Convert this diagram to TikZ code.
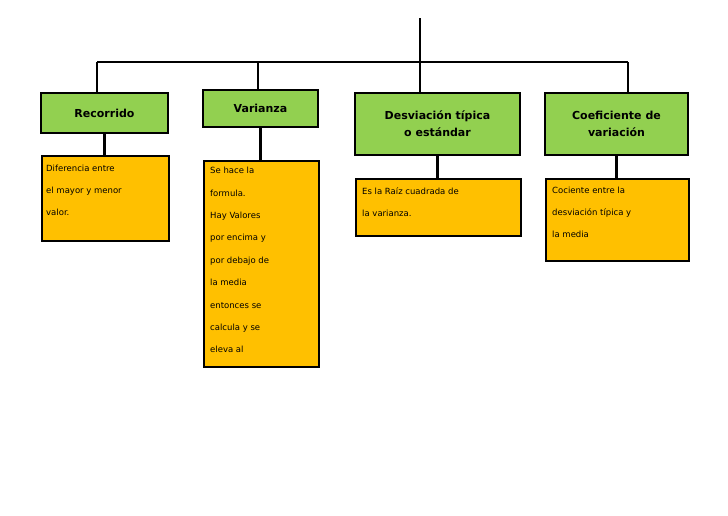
\documentclass[tikz,border=0pt]{standalone}
\usepackage{fontspec}
\setmainfont{DejaVu Sans}
\begin{document}
\begin{tikzpicture}[x=1pt,y=-1pt,
 head/.style={draw=black,line width=2.2pt,fill=green!55!lime!70!yellow,font=\bfseries\fontsize{11}{17}\selectfont,align=center,inner sep=0pt},
 body/.style={draw=black,line width=2.2pt,fill=orange!60!yellow,font=\fontsize{8.5}{22}\selectfont,align=left,inner sep=0pt},
 ln/.style={line width=2.2pt}]
\useasboundingbox (0,0) rectangle (728,515);
\definecolor{gr}{HTML}{92D050}\definecolor{og}{HTML}{FFC000}
\tikzset{head/.append style={fill=gr},body/.append style={fill=og}}
\node[head,minimum width=127pt,minimum height=40pt] (h1) at (104.5,113) {Recorrido};
\node[head,minimum width=115pt,minimum height=37pt] (h2) at (260.5,108.5) {Varianza};
\node[head,minimum width=165pt,minimum height=62pt] (h3) at (437.5,124) {Desviación típica\\o estándar};
\node[head,minimum width=143pt,minimum height=62pt] (h4) at (616.5,124) {Coeficiente de\\variación};
\node[body,minimum width=127pt,minimum height=85pt,anchor=north west,text width=121pt] (b1) at (41,155) {};
\node[anchor=north west,font=\fontsize{8.5}{22}\selectfont,align=left,inner sep=0pt] at (46,165) {Diferencia entre\\el mayor y menor\\valor.};
\node[body,minimum width=115pt,minimum height=206pt,anchor=north west] (b2) at (203,160) {};
\node[anchor=north west,font=\fontsize{8.5}{22.4}\selectfont,align=left,inner sep=0pt] at (210,167) {Se hace la\\formula.\\Hay Valores\\por encima y\\por debajo de\\la media\\entonces se\\calcula y se\\eleva al};
\node[body,minimum width=165pt,minimum height=57pt,anchor=north west] (b3) at (355,178) {};
\node[anchor=north west,font=\fontsize{8.5}{22}\selectfont,align=left,inner sep=0pt] at (362,187) {Es la Raíz cuadrada de\\la varianza.};
\node[body,minimum width=143pt,minimum height=82pt,anchor=north west] (b4) at (545,178) {};
\node[anchor=north west,font=\fontsize{8.5}{22}\selectfont,align=left,inner sep=0pt] at (552,187) {Cociente entre la\\desviación típica y\\la media};
\coordinate (top) at (420,18);
\coordinate (j) at (420,62);
\draw[ln] (top) -- (j);
\draw[ln] (97,62) -- (628,62);
\draw[ln] (97,62) -- (h1.north -| 97,0);
\draw[ln] (258,62) -- (h2.north -| 258,0);
\draw[ln] (j) -- (h3.north -| 420,0);
\draw[ln] (628,62) -- (h4.north -| 628,0);
\draw[ln] (h1.south) -- (b1.north -| h1.south);
\draw[ln] (h2.south) -- (b2.north -| h2.south);
\draw[ln] (h3.south) -- (b3.north -| h3.south);
\draw[ln] (h4.south) -- (b4.north -| h4.south);
\end{tikzpicture}
\end{document}
